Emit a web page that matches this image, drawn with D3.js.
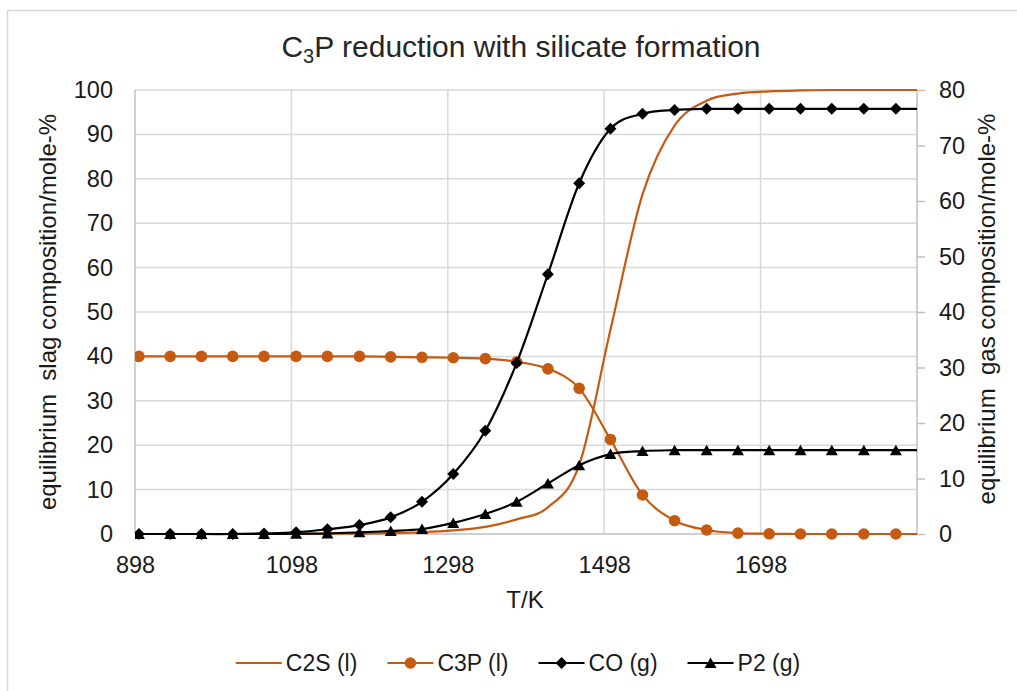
<!DOCTYPE html>
<html>
<head>
<meta charset="utf-8">
<script src="https://cdn.jsdelivr.net/npm/d3@7"></script>
<style>
  html, body { margin: 0; padding: 0; background: #fff; }
  svg { display: block; font-family: "Liberation Sans", Arial, sans-serif; }
</style>
</head>
<body>
<svg id="chart" width="1017" height="691"></svg>
<script>
// Temperatures (K) of the equilibrium calculation points
const temps = [903, 943, 983, 1023, 1063, 1104, 1144, 1185, 1225, 1265, 1305, 1346, 1386,
               1426, 1466, 1506, 1547, 1588, 1629, 1669, 1709, 1749, 1789, 1830, 1871, 1911];

// Slag phases (left axis, mole-%)
const c2s = [0, 0, 0, 0, 0, 0, 0.05, 0.1, 0.2, 0.4, 0.8, 1.6, 3.3,
             6.0, 15.5, 46, 76.5, 92, 97.6, 99.2, 99.7, 99.9, 100, 100, 100, 100];
const c3p = [40, 40, 40, 40, 40, 40, 40, 40, 39.9, 39.8, 39.7, 39.5, 38.8,
             37.2, 32.8, 21.3, 8.8, 3.0, 0.9, 0.2, 0.05, 0, 0, 0, 0, 0];

// Gas species (right axis, mole-%)
const co = [0, 0, 0, 0, 0.1, 0.3, 0.85, 1.6, 3.0, 5.8, 10.8, 18.6, 30.8,
            46.8, 63.2, 73.0, 75.7, 76.4, 76.6, 76.6, 76.6, 76.6, 76.6, 76.6, 76.6, 76.6];
const p2 = [0, 0, 0, 0, 0, 0.05, 0.1, 0.3, 0.55, 0.9, 2.0, 3.6, 5.8,
            9.1, 12.4, 14.4, 14.95, 15.1, 15.1, 15.1, 15.1, 15.1, 15.1, 15.1, 15.1, 15.1];

// Axis ticks
const xTicks = [898, 1098, 1298, 1498, 1698];
const xGrid = [898, 1098, 1298, 1498, 1698, 1898];
const leftTicks = [0, 10, 20, 30, 40, 50, 60, 70, 80, 90, 100];
const rightTicks = [0, 10, 20, 30, 40, 50, 60, 70, 80];

const ORANGE = "#C55A11";
const GRID = "#d9d9d9";
const AXIS = "#bfbfbf";

const svg = d3.select("#chart");
const plot = { left: 135, right: 917, top: 90, bottom: 534 };

const x = d3.scaleLinear().domain([898, 1898]).range([plot.left, plot.right]);
const yL = d3.scaleLinear().domain([0, 100]).range([plot.bottom, plot.top]);
const yR = d3.scaleLinear().domain([0, 80]).range([plot.bottom, plot.top]);

// chart frame
svg.append("rect")
  .attr("x", 7.5).attr("y", 10.5).attr("width", 1030).attr("height", 700)
  .attr("fill", "none").attr("stroke", "#d9d9d9").attr("stroke-width", 1.5);

// title
const title = svg.append("text")
  .attr("x", 521).attr("y", 57)
  .attr("text-anchor", "middle")
  .attr("font-size", 30).attr("fill", "#262626");
title.append("tspan").text("C");
title.append("tspan").text("3").attr("font-size", 20).attr("dy", 6);
title.append("tspan").text("P reduction with silicate formation").attr("dy", -6);

// gridlines
svg.append("g").selectAll("line").data(leftTicks.slice(1)).join("line")
  .attr("x1", plot.left).attr("x2", plot.right)
  .attr("y1", d => yL(d)).attr("y2", d => yL(d))
  .attr("stroke", GRID).attr("stroke-width", 1.5);
svg.append("g").selectAll("line").data(xGrid.slice(1, -1)).join("line")
  .attr("x1", d => x(d)).attr("x2", d => x(d))
  .attr("y1", plot.top).attr("y2", plot.bottom)
  .attr("stroke", GRID).attr("stroke-width", 1.5);

// axes
const fontSize = 23.5;
const gLeft = svg.append("g").attr("transform", `translate(${plot.left},0)`)
  .call(d3.axisLeft(yL).tickValues(leftTicks).tickSize(0).tickPadding(22));
const gRight = svg.append("g").attr("transform", `translate(${plot.right},0)`)
  .call(d3.axisRight(yR).tickValues(rightTicks).tickSize(8).tickPadding(14));
const gBottom = svg.append("g").attr("transform", `translate(0,${plot.bottom})`)
  .call(d3.axisBottom(x).tickValues(xTicks).tickSize(0).tickPadding(22).tickFormat(d3.format("d")));

[gLeft, gRight, gBottom].forEach(g => {
  g.select(".domain").attr("stroke", AXIS).attr("stroke-width", 1.5);
  g.selectAll(".tick line").attr("stroke", AXIS).attr("stroke-width", 1.5);
  g.selectAll(".tick text").attr("font-size", fontSize).attr("fill", "#1a1a1a")
    .attr("font-family", "Liberation Sans, Arial, sans-serif");
});
gRight.select(".domain").attr("d", `M0,${plot.top}V${plot.bottom}`);
gLeft.select(".domain").attr("d", `M0,${plot.top}V${plot.bottom}`);
gBottom.select(".domain").attr("d", `M${plot.left},0H${plot.right}`);

// axis titles
svg.append("text")
  .attr("transform", "translate(56,312) rotate(-90)")
  .attr("text-anchor", "middle").attr("font-size", 24).attr("fill", "#1a1a1a")
  .style("white-space", "pre")
  .text("equilibrium  slag composition/mole-%");
svg.append("text")
  .attr("transform", "translate(995,309) rotate(-90)")
  .attr("text-anchor", "middle").attr("font-size", 24).attr("fill", "#1a1a1a")
  .style("white-space", "pre")
  .text("equilibrium  gas composition/mole-%");
svg.append("text")
  .attr("x", 525).attr("y", 608)
  .attr("text-anchor", "middle").attr("font-size", 24).attr("fill", "#1a1a1a")
  .text("T/K");

// clip region for the series
svg.append("clipPath").attr("id", "plotClip")
  .append("rect")
  .attr("x", plot.left).attr("y", plot.top - 10)
  .attr("width", plot.right - plot.left).attr("height", plot.bottom - plot.top + 20);

const series = [
  { name: "C2S (l)", values: c2s, y: yL, color: ORANGE, marker: "none" },
  { name: "C3P (l)", values: c3p, y: yL, color: ORANGE, marker: "circle" },
  { name: "CO (g)",  values: co,  y: yR, color: "#000", marker: "diamond" },
  { name: "P2 (g)",  values: p2,  y: yR, color: "#000", marker: "triangle" }
];

function markerPath(type) {
  if (type === "diamond") return "M0,-6L6,0L0,6L-6,0Z";
  if (type === "triangle") return "M0,-5.5L6,5L-6,5Z";
  return null;
}

function drawMarker(g, type, color) {
  if (type === "circle") {
    g.append("circle").attr("r", 5.8).attr("fill", color);
  } else if (type !== "none") {
    g.append("path").attr("d", markerPath(type)).attr("fill", color);
  }
}

const seriesLayer = svg.append("g").attr("clip-path", "url(#plotClip)");

series.forEach(s => {
  const pts = temps.map((t, i) => [t, s.values[i]]);
  const line = d3.line()
    .x(d => x(d[0])).y(d => s.y(d[1]))
    .curve(d3.curveCardinal.tension(0));
  const g = seriesLayer.append("g");
  g.append("path").datum(pts)
    .attr("d", line).attr("fill", "none")
    .attr("stroke", s.color).attr("stroke-width", 2.2);
  if (s.marker !== "none") {
    pts.filter(d => d[0] <= 1898).forEach(d => {
      const mg = g.append("g").attr("transform", `translate(${x(d[0])},${s.y(d[1])})`);
      drawMarker(mg, s.marker, s.color);
    });
  }
});

// legend
const legend = svg.append("g");
const legendY = 663;
let cursor = 0;
series.forEach(s => {
  const item = legend.append("g");
  item.append("line").attr("x1", 0).attr("x2", 46).attr("y1", 0).attr("y2", 0)
    .attr("stroke", s.color).attr("stroke-width", 2.2);
  const mg = item.append("g").attr("transform", "translate(23,0)");
  drawMarker(mg, s.marker, s.color);
  const txt = item.append("text").attr("x", 50).attr("y", 0).attr("dy", "0.35em")
    .attr("font-size", 23).attr("fill", "#1a1a1a").text(s.name);
  const w = 50 + txt.node().getComputedTextLength();
  item.attr("transform", `translate(${cursor},${legendY})`);
  cursor += w + 30;
});
const legendWidth = cursor - 30;
legend.attr("transform", `translate(${518 - legendWidth / 2},0)`);
</script>
</body>
</html>
